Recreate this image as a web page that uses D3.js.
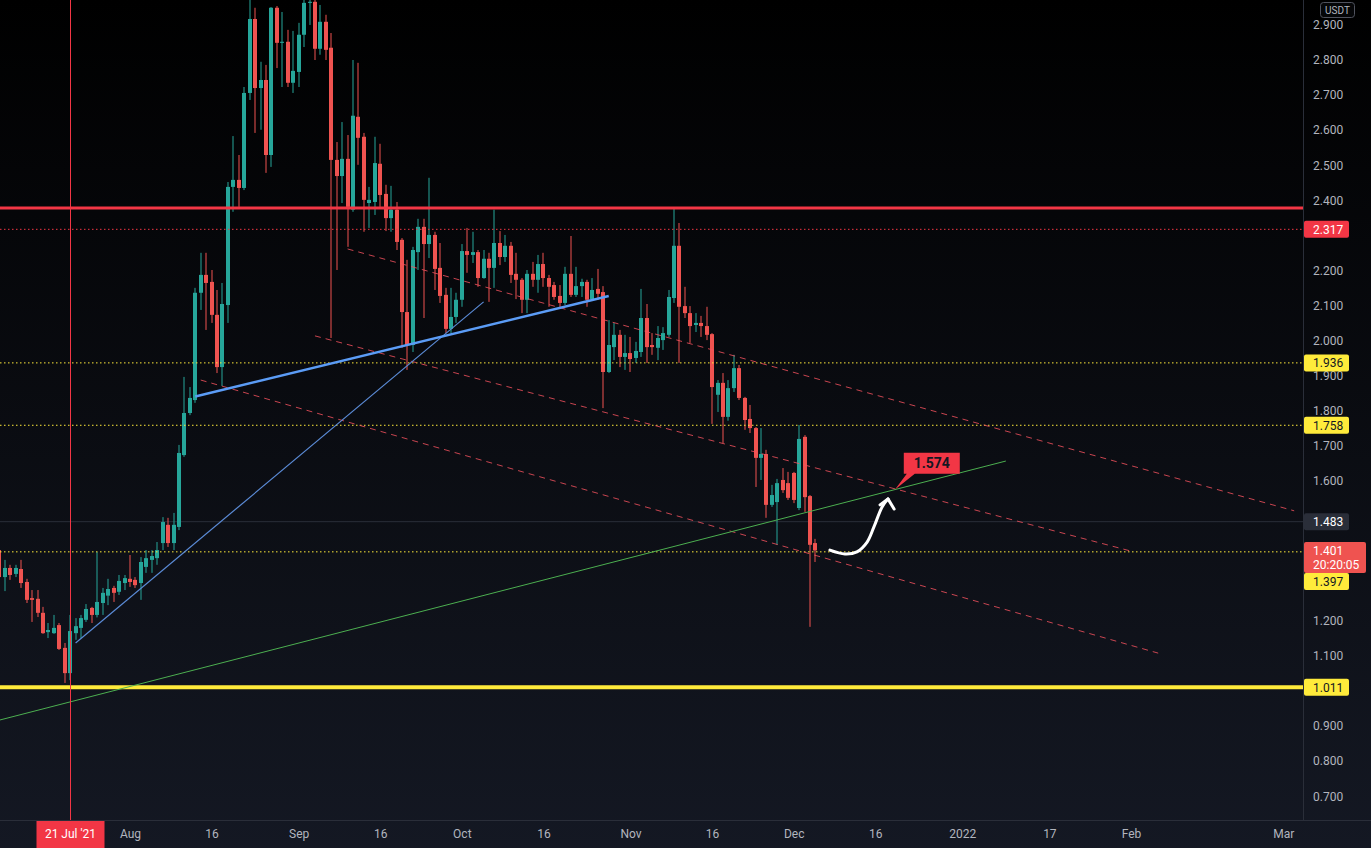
<!DOCTYPE html>
<html lang="en">
<head>
<meta charset="UTF-8">
<title>USDT daily chart</title>
<script src="https://cdnjs.cloudflare.com/ajax/libs/d3/7.9.0/d3.min.js"></script>
<style>
    html, body { margin: 0; padding: 0; background: #0a0c12; overflow: hidden; }
    svg { display: block; font-family: Roboto, "Liberation Sans", sans-serif; }
</style>
</head>
<body>
<svg width="1371" height="848"></svg>
<script>
// ---------- data: daily candles 8 Jul 2021 -> 5 Dec 2021 ----------
const firstDay = "2021-07-08";
const lastDay  = "2021-12-05";

const opens = [
    1.402,1.325,1.351,1.334,1.348,1.311,1.265,1.263,1.223,1.168,1.165,1.188,1.123,1.051,1.165,1.180,1.203,1.237,1.217,1.251,1.272,1.294,1.283,1.308,
    1.320,1.317,1.308,1.354,1.374,1.379,1.422,1.474,1.422,1.468,1.673,1.793,1.830,2.136,2.187,2.167,2.073,1.924,2.101,2.438,2.458,2.435,2.706,2.917,2.720,2.743,2.529,2.949,2.849,2.852,2.735,
    2.766,2.872,2.963,2.966,2.832,2.909,2.835,2.515,2.469,2.518,2.373,2.638,2.581,2.392,2.395,2.504,2.418,2.349,2.373,2.287,2.081,1.987,2.252,2.324,2.275,2.301,2.207,2.130,2.033,2.067,
    2.116,2.255,2.244,2.252,2.178,2.233,2.207,2.278,2.238,2.270,2.190,2.173,2.116,2.190,2.173,2.218,2.178,2.158,2.127,2.107,2.190,2.130,2.155,2.167,2.118,2.147,2.138,1.910,1.981,2.016,1.953,
    1.964,1.950,1.967,2.064,1.987,1.979,2.001,2.016,2.121,2.270,2.098,2.078,2.044,2.050,2.041,2.018,1.845,1.879,1.782,1.864,1.921,1.836,1.776,1.750,1.665,1.676,1.531,1.539,1.602,1.593,
    1.622,1.522,1.725,1.556,1.422
];
const highs = [
    1.408,1.374,1.360,1.360,1.374,1.320,1.288,1.288,1.240,1.194,1.217,1.194,1.137,1.217,1.208,1.217,1.248,1.240,1.397,1.294,1.320,1.300,1.331,1.331,
    1.388,1.325,1.382,1.402,1.402,1.425,1.496,1.494,1.508,1.702,1.896,1.867,2.150,2.250,2.250,2.201,2.144,2.164,2.452,2.583,2.529,2.723,2.975,2.949,2.795,2.786,2.951,2.954,2.937,2.886,2.883,
    2.906,2.975,2.975,2.975,2.957,2.929,2.877,2.566,2.623,2.586,2.800,2.792,2.592,2.438,2.581,2.561,2.444,2.441,2.395,2.292,2.230,2.267,2.347,2.347,2.464,2.310,2.278,2.150,2.150,2.136,
    2.275,2.321,2.310,2.258,2.258,2.250,2.373,2.312,2.301,2.281,2.250,2.178,2.201,2.224,2.244,2.250,2.187,2.167,2.158,2.210,2.298,2.210,2.176,2.173,2.178,2.204,2.155,2.058,2.050,2.030,2.016,
    2.010,1.996,2.147,2.104,2.021,2.041,2.038,2.144,2.375,2.335,2.153,2.098,2.078,2.070,2.096,2.021,1.887,1.907,1.887,1.959,1.930,1.839,1.816,1.753,1.750,1.688,1.588,1.605,1.636,1.625,
    1.625,1.759,1.730,1.559,1.434
];
const lows = [
    1.317,1.285,1.317,1.325,1.294,1.251,1.197,1.211,1.163,1.151,1.163,1.117,1.023,1.031,1.146,1.151,1.197,1.194,1.210,1.217,1.245,1.254,1.274,1.288,
    1.297,1.294,1.260,1.337,1.337,1.360,1.402,1.411,1.402,1.459,1.668,1.787,1.822,2.087,2.030,2.050,1.907,1.870,2.050,2.367,2.381,2.429,2.686,2.592,2.601,2.478,2.495,2.777,2.723,2.723,2.706,
    2.723,2.837,2.900,2.800,2.815,2.800,2.007,2.201,2.392,2.267,2.367,2.501,2.310,2.321,2.358,2.381,2.312,2.310,2.258,1.979,1.916,1.967,2.201,2.064,2.235,2.144,2.107,2.021,2.021,2.050,
    2.096,2.193,2.221,2.153,2.176,2.110,2.150,2.215,2.224,2.164,2.118,2.078,2.078,2.153,2.136,2.153,2.096,2.116,2.093,2.101,2.124,2.124,2.124,2.096,2.116,2.116,1.807,1.907,1.944,1.924,1.916,
    1.910,1.936,1.953,1.936,1.959,1.944,1.973,2.010,2.107,1.936,2.064,1.993,2.024,2.010,2.001,1.762,1.796,1.707,1.771,1.853,1.830,1.745,1.736,1.582,1.602,1.494,1.525,1.417,1.565,1.545,
    1.536,1.516,1.511,1.183,1.368
];
const closes = [
    1.325,1.351,1.331,1.351,1.308,1.260,1.260,1.223,1.165,1.174,1.180,1.120,1.051,1.171,1.185,1.208,1.234,1.217,1.254,1.280,1.291,1.280,1.314,1.322,
    1.311,1.302,1.368,1.379,1.385,1.402,1.482,1.422,1.474,1.679,1.793,1.836,2.136,2.187,2.164,2.073,1.924,2.104,2.438,2.458,2.435,2.706,2.917,2.720,2.743,2.529,2.949,2.849,2.852,2.735,2.769,
    2.872,2.963,2.966,2.832,2.909,2.829,2.515,2.469,2.518,2.381,2.641,2.578,2.401,2.401,2.506,2.415,2.349,2.373,2.281,2.081,1.987,2.258,2.324,2.275,2.301,2.204,2.127,2.033,2.067,2.116,
    2.255,2.244,2.252,2.178,2.233,2.207,2.278,2.238,2.270,2.187,2.173,2.116,2.190,2.173,2.218,2.178,2.153,2.124,2.107,2.190,2.130,2.155,2.167,2.116,2.144,2.133,1.910,1.987,2.016,1.953,1.964,
    1.947,1.970,2.064,1.981,1.981,2.007,2.021,2.124,2.270,2.096,2.078,2.041,2.050,2.041,2.016,1.867,1.879,1.782,1.864,1.921,1.836,1.773,1.750,1.665,1.676,1.531,1.559,1.593,1.573,1.551,
    1.545,1.719,1.553,1.417,1.401
];

// axis ticks
const xTickDates  = ["2021-08-01","2021-08-16","2021-09-01","2021-09-16","2021-10-01","2021-10-16","2021-11-01","2021-11-16","2021-12-01","2021-12-16","2022-01-01","2022-01-17","2022-02-01","2022-03-01"];
const xTickLabels = ["Aug","16","Sep","16","Oct","16","Nov","16","Dec","16","2022","17","Feb","Mar"];
const yTickValues = [0.7,0.8,0.9,1.0,1.1,1.2,1.3,1.4,1.5,1.6,1.7,1.8,1.9,2.0,2.1,2.2,2.3,2.4,2.5,2.6,2.7,2.8,2.9];

// horizontal levels
const resistance   = 2.378;               // thick red
const redDotted    = 2.317;
const yellowDotted = [1.936, 1.758, 1.397];
const support      = 1.011;               // thick yellow
const prevClose    = 1.483;
const lastPrice    = 1.401;
const countdown    = "20:20:05";
const currency     = "USDT";
const markerDate   = "2021-07-21";
const markerLabel  = "21 Jul '21";

// drawings: [date, price]
const blueThick = [["2021-08-13", 1.840], ["2021-10-28", 2.127]];
const blueThin  = [["2021-07-22", 1.137], ["2021-10-05", 2.110]];
const greenLine = [["2021-07-08", 0.917], ["2022-01-09", 1.656]];
const channel = [
    [["2021-09-10", 2.261], ["2022-03-03", 1.514]],
    [["2021-09-04", 2.013], ["2022-02-01T12:00", 1.397]],
    [["2021-08-14", 1.887], ["2022-02-06", 1.108]]
];
const callout = ["2021-12-19T14:00", 1.574];
const arrowPath = [["2021-12-07T16:00",1.402],["2021-12-10T10:00",1.391],["2021-12-12T15:00",1.397],
                   ["2021-12-14T12:00",1.425],["2021-12-15T18:00",1.468],["2021-12-17T06:00",1.525],["2021-12-18T08:00",1.548]];
const arrowHead = [["2021-12-16T21:00",1.531],["2021-12-18T08:00",1.548],["2021-12-19T11:00",1.519]];

// ---------- setup ----------
const svg = d3.select("svg");
const width = +svg.attr("width");
const height = +svg.attr("height");
const plotW = 1303, plotH = 820;

const up = "#26a69a", down = "#ef5350";
const tvRed = "#f23645", tvYellow = "#ffeb3b", axisText = "#b2b5be", sepColor = "#2a2e39";

const toDate = s => new Date(s.length === 10 ? s + "T00:00:00Z" : s + ":00Z");

const x = d3.scaleUtc()
    .domain([toDate("2021-08-01"), toDate("2022-03-01")])
    .range([130, 1283.3]);
const y = d3.scaleLinear()
    .domain([1.0, 2.8])
    .range([691, 60]);

const days = d3.utcDay.range(toDate(firstDay), d3.utcDay.offset(toDate(lastDay), 1));
const candles = days.map((d, i) => ({ date: d, o: opens[i], h: highs[i], l: lows[i], c: closes[i] }));

const defs = svg.append("defs");
const grad = defs.append("linearGradient").attr("id", "bg").attr("x1", 0).attr("y1", 0).attr("x2", 0).attr("y2", 1);
grad.append("stop").attr("offset", "0%").attr("stop-color", "#000000");
grad.append("stop").attr("offset", "100%").attr("stop-color", "#141823");
defs.append("clipPath").attr("id", "plot-clip")
    .append("rect").attr("width", plotW).attr("height", plotH);

svg.append("rect").attr("width", width).attr("height", height).attr("fill", "url(#bg)");

const plot = svg.append("g").attr("clip-path", "url(#plot-clip)");

// faint previous close line
plot.append("line")
    .attr("x1", 0).attr("x2", plotW)
    .attr("y1", y(prevClose)).attr("y2", y(prevClose))
    .attr("stroke", sepColor).attr("stroke-width", 1);

// ---------- candles ----------
const cx = d => Math.round(x(d.date));
const cg = plot.append("g").selectAll("g")
    .data(candles)
    .join("g")
    .attr("fill", d => d.c >= d.o ? up : down);

cg.append("rect")
    .attr("x", d => cx(d) - 0.5)
    .attr("width", 1)
    .attr("y", d => y(d.h))
    .attr("height", d => y(d.l) - y(d.h));

cg.append("rect")
    .attr("x", d => cx(d) - 2)
    .attr("width", 4)
    .attr("y", d => y(Math.max(d.o, d.c)))
    .attr("height", d => Math.max(1, Math.abs(y(d.o) - y(d.c))));

// ---------- horizontal levels ----------
function hLine(value, color, w, dash) {
    plot.append("line")
        .attr("x1", 0).attr("x2", plotW)
        .attr("y1", y(value)).attr("y2", y(value))
        .attr("stroke", color).attr("stroke-width", w)
        .attr("stroke-dasharray", dash || null);
}
hLine(resistance, tvRed, 3);
hLine(redDotted, tvRed, 1, "1.5,2.5");
yellowDotted.forEach(v => hLine(v, tvYellow, 1, "1.5,2.5"));
hLine(support, tvYellow, 4);

// ---------- trend lines ----------
const line = d3.line().x(p => x(toDate(p[0]))).y(p => y(p[1]));

channel.forEach(seg => {
    plot.append("path").attr("d", line(seg))
        .attr("fill", "none").attr("stroke", "#f7525f").attr("stroke-opacity", 0.8)
        .attr("stroke-width", 1).attr("stroke-dasharray", "6,5");
});
plot.append("path").attr("d", line(greenLine))
    .attr("fill", "none").attr("stroke", "#4caf50").attr("stroke-width", 1);
plot.append("path").attr("d", line(blueThin))
    .attr("fill", "none").attr("stroke", "#5b8bd6").attr("stroke-width", 1.2);
plot.append("path").attr("d", line(blueThick))
    .attr("fill", "none").attr("stroke", "#5b9cf6").attr("stroke-width", 2.5);

// vertical marker at 21 Jul
const mx = Math.round(x(toDate(markerDate))) + 0.5;
svg.append("line")
    .attr("x1", mx).attr("x2", mx).attr("y1", 0).attr("y2", plotH)
    .attr("stroke", tvRed).attr("stroke-width", 1);

// ---------- callout label 1.574 ----------
const ax = x(toDate(callout[0])), ay = y(callout[1]);
plot.append("path")
    .attr("d", `M${ax},${ay} L${ax + 12},${ay - 16} L${ax + 9},${ay - 16} L${ax + 9},${ay - 37} L${ax + 65},${ay - 37} L${ax + 65},${ay - 16} L${ax + 20},${ay - 16} Z`)
    .attr("fill", tvRed);
plot.append("text")
    .attr("x", ax + 37).attr("y", ay - 26.5)
    .attr("text-anchor", "middle").attr("dominant-baseline", "central")
    .attr("font-size", 14).attr("font-weight", "bold").attr("fill", "#131722")
    .text(d3.format(".3f")(callout[1]));

// ---------- white arrow ----------
plot.append("path")
    .attr("d", d3.line().curve(d3.curveCatmullRom).x(p => x(toDate(p[0]))).y(p => y(p[1]))(arrowPath))
    .attr("fill", "none").attr("stroke", "#ffffff").attr("stroke-width", 3).attr("stroke-linecap", "round");
plot.append("path")
    .attr("d", line(arrowHead))
    .attr("fill", "none").attr("stroke", "#ffffff").attr("stroke-width", 3)
    .attr("stroke-linecap", "round").attr("stroke-linejoin", "round");

// ---------- axes ----------
svg.append("line").attr("x1", plotW + 0.5).attr("x2", plotW + 0.5).attr("y1", 0).attr("y2", plotH)
    .attr("stroke", sepColor);
svg.append("line").attr("x1", 0).attr("x2", width).attr("y1", plotH + 0.5).attr("y2", plotH + 0.5)
    .attr("stroke", sepColor);

// price labels sit on the scale; ticks hidden under them are dropped
const fmt = d3.format(".3f");
const labels = [
    { cy: y(redDotted),        lines: [fmt(redDotted)],        bg: tvRed,    fg: "#ffffff" },
    { cy: y(yellowDotted[0]),  lines: [fmt(yellowDotted[0])],  bg: tvYellow, fg: "#131722" },
    { cy: y(yellowDotted[1]),  lines: [fmt(yellowDotted[1])],  bg: tvYellow, fg: "#131722" },
    { cy: y(prevClose),        lines: [fmt(prevClose)],        bg: "#2a2e39", fg: "#ffffff" },
    { cy: y(lastPrice) + 7,    lines: [fmt(lastPrice), countdown], bg: down, fg: "#ffffff", w: 62 },
    { cy: y(lastPrice) + 31,   lines: [fmt(yellowDotted[2])],  bg: tvYellow, fg: "#131722" },
    { cy: y(support),          lines: [fmt(support)],          bg: tvYellow, fg: "#131722" }
];
const visibleTicks = yTickValues.filter(v => labels.every(l => Math.abs(l.cy - y(v)) >= 10));

const yAxis = d3.axisRight(y)
    .tickValues(visibleTicks)
    .tickFormat(d3.format(".3f"))
    .tickSize(0)
    .tickPadding(10);
svg.append("g")
    .attr("transform", `translate(${plotW},0)`)
    .call(yAxis)
    .call(g => g.select(".domain").remove())
    .attr("font-family", null)
    .selectAll("text").attr("fill", axisText).attr("font-size", 12);

const xAxis = d3.axisBottom(x)
    .tickValues(xTickDates.map(toDate))
    .tickFormat((d, i) => xTickLabels[i])
    .tickSize(0)
    .tickPadding(9);
svg.append("g")
    .attr("transform", `translate(0,${plotH})`)
    .call(xAxis)
    .call(g => g.select(".domain").remove())
    .attr("font-family", null)
    .selectAll("text").attr("fill", axisText).attr("font-size", 12);

// date marker label
svg.append("rect")
    .attr("x", mx - 34).attr("y", plotH + 1).attr("width", 68).attr("height", height - plotH - 1)
    .attr("fill", tvRed);
svg.append("text")
    .attr("x", mx).attr("y", plotH + 14)
    .attr("text-anchor", "middle").attr("dominant-baseline", "central")
    .attr("font-size", 12).attr("fill", "#ffffff")
    .text(markerLabel);

labels.forEach(l => {
    const h = l.lines.length * 14 + 3;
    const g = svg.append("g");
    g.append("rect")
        .attr("x", plotW + 1).attr("y", l.cy - h / 2).attr("width", l.w || 45).attr("height", h)
        .attr("rx", 2).attr("fill", l.bg);
    l.lines.forEach((t, i) => {
        g.append("text")
            .attr("x", plotW + 10).attr("y", l.cy - h / 2 + 9 + i * 14)
            .attr("dominant-baseline", "central")
            .attr("font-size", 12).attr("fill", l.fg)
            .text(t);
    });
});

// currency badge
svg.append("rect")
    .attr("x", 1320.5).attr("y", 2.5).attr("width", 34).attr("height", 15).attr("rx", 3)
    .attr("fill", "#050608").attr("stroke", "#50535e");
svg.append("text")
    .attr("x", 1337.5).attr("y", 10)
    .attr("text-anchor", "middle").attr("dominant-baseline", "central")
    .attr("font-size", 10).attr("fill", axisText)
    .text(currency);
</script>
</body>
</html>
